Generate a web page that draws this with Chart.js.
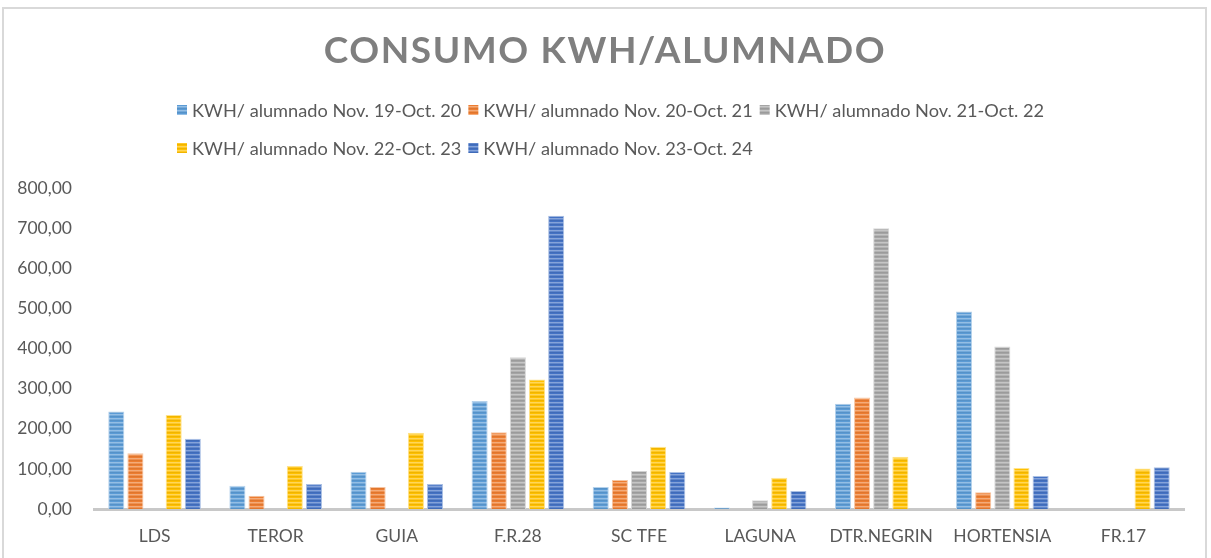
<!DOCTYPE html>
<html>
<head>
<meta charset="utf-8">
<script src="https://cdn.jsdelivr.net/npm/chart.js@4"></script>
<style>
  html, body { margin: 0; padding: 0; background: #fff; }
  #wrap { position: relative; width: 1211px; height: 558px; overflow: hidden; }
  #frame { position: absolute; left: 2px; top: 7px; width: 1205px; height: 600px;
           border: 2px solid #d9d9d9; box-sizing: border-box; pointer-events: none; }
  canvas { position: absolute; left: 0; top: 0; }
</style>
</head>
<body>
<div id="wrap">
  <canvas id="grafico" width="1211" height="558"></canvas>
  <div id="frame"></div>
</div>
<script>
// Datos
const centros = ['LDS', 'TEROR', 'GUIA', 'F.R.28', 'SC TFE', 'LAGUNA', 'DTR.NEGRIN', 'HORTENSIA', 'FR.17'];
const periodos = [
  'KWH/ alumnado Nov. 19-Oct. 20',
  'KWH/ alumnado Nov. 20-Oct. 21',
  'KWH/ alumnado Nov. 21-Oct. 22',
  'KWH/ alumnado Nov. 22-Oct. 23',
  'KWH/ alumnado Nov. 23-Oct. 24'
];
const nov19oct20 = [243, 58, 93, 269, 55, 4, 262, 492, 0];
const nov20oct21 = [139, 33, 55, 191, 72, 0, 278, 42, 0];
const nov21oct22 = [0, 0, 0, 378, 95, 22, 700, 405, 0];
const nov22oct23 = [234, 107, 190, 323, 155, 78, 130, 102, 101];
const nov23oct24 = [175, 62, 62, 731, 92, 45, 0, 82, 104];
const yTicks = [0, 100, 200, 300, 400, 500, 600, 700, 800];

const colores = ['#5B9BD5', '#ED7D31', '#A5A5A5', '#FFC000', '#4472C4'];
const TITULO = 'CONSUMO KWH/ALUMNADO';
const FUENTE = "Lato, 'Open Sans', sans-serif";

// mezcla un color hex con blanco/negro
function mezcla(hex, otro, t) {
  const a = parseInt(hex.slice(1), 16);
  const r = (a >> 16) & 255, g = (a >> 8) & 255, b = a & 255;
  const o = otro === 'w' ? 255 : 0;
  return `rgb(${Math.round(r + (o - r) * t)},${Math.round(g + (o - g) * t)},${Math.round(b + (o - b) * t)})`;
}

// trama de rayas horizontales como en Excel
function trama(hex) {
  const c = document.createElement('canvas');
  c.width = 4; c.height = 4;
  const x = c.getContext('2d');
  const filas = [mezcla(hex, 'k', 0.06), hex, mezcla(hex, 'w', 0.35), mezcla(hex, 'w', 0.15)];
  filas.forEach((f, i) => { x.fillStyle = f; x.fillRect(0, i, 4, 1); });
  return x.createPattern(c, 'repeat');
}

const series = [nov19oct20, nov20oct21, nov21oct22, nov22oct23, nov23oct24];

// título y leyenda dibujados a mano (leyenda en rejilla alineada a la izquierda)
const cabecera = {
  id: 'cabecera',
  afterDraw(chart) {
    const ctx = chart.ctx;
    ctx.save();
    ctx.fillStyle = '#7f7f7f';
    ctx.font = `bold 37px ${FUENTE}`;
    ctx.letterSpacing = '1.6px';
    ctx.textAlign = 'center';
    ctx.textBaseline = 'middle';
    ctx.fillText(TITULO, 605, 51);
    ctx.letterSpacing = '0px';

    ctx.font = `18.2px ${FUENTE}`;
    ctx.textAlign = 'left';
    ctx.fillStyle = '#595959';
    const caja = 10, hueco = 5, sep = 7;
    const anchos = periodos.map(t => caja + hueco + ctx.measureText(t).width);
    const col = Math.max(...anchos) + sep;
    const porFila = 3;
    const anchoFila = col * porFila - sep;
    const x0 = Math.round((1211 - anchoFila) / 2) + 5;
    const filasY = [110, 148];
    chart.data.datasets.forEach((ds, i) => {
      const x = x0 + (i % porFila) * col;
      const y = filasY[Math.floor(i / porFila)];
      ctx.fillStyle = ds.backgroundColor;
      ctx.fillRect(x, y - 5, caja, caja);
      ctx.fillStyle = '#595959';
      ctx.fillText(ds.label, x + caja + hueco, y + 1);
    });
    ctx.restore();
  }
};

new Chart(document.getElementById('grafico'), {
  type: 'bar',
  data: {
    labels: centros,
    datasets: periodos.map((p, i) => ({
      label: p,
      data: series[i],
      backgroundColor: trama(colores[i]),
      borderColor: mezcla(colores[i], 'w', 0.55),
      borderWidth: 1,
      categoryPercentage: 0.79,
      barPercentage: 0.84
    }))
  },
  options: {
    responsive: false,
    animation: false,
    layout: { padding: { top: 188, right: 27, left: 0, bottom: 0 } },
    plugins: {
      legend: { display: false },
      title: { display: false },
      tooltip: { enabled: false }
    },
    scales: {
      x: {
        grid: { display: false },
        border: { display: true, color: '#c8c8c8', width: 3 },
        ticks: { color: '#595959', font: { family: FUENTE, size: 17.5 }, padding: 9 },
        afterFit: s => { s.height = 49; }
      },
      y: {
        min: 0,
        max: 800,
        grid: { display: false },
        border: { display: false },
        afterBuildTicks: s => { s.ticks = yTicks.map(v => ({ value: v })); },
        afterFit: s => { s.width = 94; },
        ticks: {
          color: '#595959',
          font: { family: FUENTE, size: 17.5 },
          padding: 14,
          callback: v => v.toFixed(2).replace('.', ',')
        }
      }
    }
  },
  plugins: [cabecera]
});
</script>
</body>
</html>
